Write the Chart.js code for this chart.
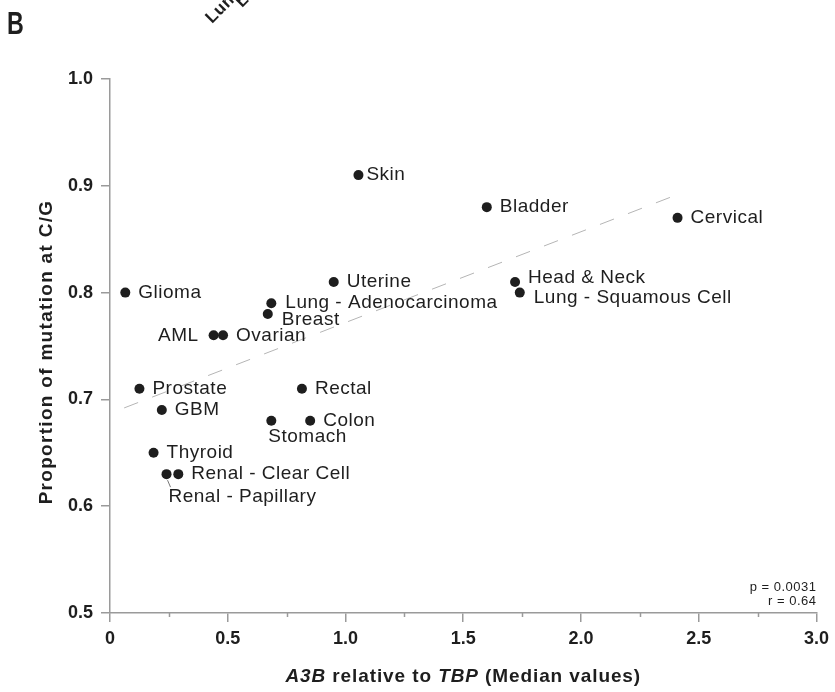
<!DOCTYPE html>
<html>
<head>
<meta charset="utf-8">
<script src="https://cdn.jsdelivr.net/npm/chart.js@4.4.0/dist/chart.umd.min.js"></script>
<style>
  html, body { margin: 0; padding: 0; background: #fff; }
  #wrap { width: 835px; height: 692px; position: relative; }
</style>
</head>
<body>
<div id="wrap"><canvas id="chart"></canvas></div>
<script>
// tumour types with APOBEC3B expression (median, relative to TBP)
// and the fraction of mutations falling at C/G
const tumourTypes = [
  'Skin', 'Bladder', 'Cervical', 'Uterine', 'Head & Neck', 'Lung - Squamous Cell',
  'Glioma', 'Lung - Adenocarcinoma', 'Breast', 'AML', 'Ovarian', 'Prostate',
  'GBM', 'Rectal', 'Stomach', 'Colon', 'Thyroid', 'Renal - Papillary', 'Renal - Clear Cell'
];
const a3bMedian = [
  1.055, 1.60, 2.41, 0.95, 1.72, 1.74,
  0.065, 0.685, 0.67, 0.44, 0.48, 0.125,
  0.22, 0.815, 0.685, 0.85, 0.185, 0.24, 0.29
];
const fractionCG = [
  0.91, 0.88, 0.87, 0.81, 0.81, 0.80,
  0.80, 0.79, 0.78, 0.76, 0.76, 0.71,
  0.69, 0.71, 0.68, 0.68, 0.65, 0.63, 0.63
];

// fitted trend line end points
const trendX = [0.06, 2.40];
const trendY = [0.692, 0.891];

const xTicks = [0, 0.5, 1.0, 1.5, 2.0, 2.5, 3.0];
const xMinorTicks = [0.25, 0.75, 1.25, 1.75, 2.25, 2.75];
const yTicks = [0.5, 0.6, 0.7, 0.8, 0.9, 1.0];
const statsText = ['p = 0.0031', 'r = 0.64'];

// label offsets from each point: [dx, dy, textAlign]
const labelOffsets = {
  'Skin': [8, 0, 'left'],
  'AML': [-15, 0, 'right'],
  'Head & Neck': [13, -4, 'left'],
  'Lung - Squamous Cell': [14, 5, 'left'],
  'Lung - Adenocarcinoma': [14, -1, 'left'],
  'Breast': [14, 6, 'left'],
  'Stomach': [-3, 16, 'left'],
  'Renal - Papillary': [2, 23, 'left']
};

const FONT = '"Liberation Sans", Arial, Helvetica, sans-serif';
const AXIS_GREY = '#9a9a9a';
const INK = '#1e1e1e';

Chart.defaults.font.family = FONT;

const annotations = {
  id: 'annotations',
  afterDatasetsDraw(chart) {
    const ctx = chart.ctx;
    const meta = chart.getDatasetMeta(0);
    ctx.save();
    ctx.fillStyle = INK;
    ctx.font = '19px ' + FONT;
    ctx.letterSpacing = '0.5px';
    ctx.textBaseline = 'middle';
    meta.data.forEach((pt, i) => {
      const name = tumourTypes[i];
      const off = labelOffsets[name] || [13, 0, 'left'];
      ctx.textAlign = off[2];
      ctx.fillText(name, pt.x + off[0], pt.y + off[1]);
      if (name === 'Renal - Papillary') {
        // small leader from the point to its label
        ctx.strokeStyle = '#777';
        ctx.lineWidth = 1;
        ctx.beginPath();
        ctx.moveTo(pt.x + 1, pt.y + 6);
        ctx.lineTo(pt.x + 4, pt.y + 13);
        ctx.stroke();
      }
    });
    ctx.restore();
  },
  afterDraw(chart) {
    const ctx = chart.ctx;
    const xs = chart.scales.x;
    const area = chart.chartArea;

    ctx.save();
    // minor ticks on the x axis
    ctx.strokeStyle = AXIS_GREY;
    ctx.lineWidth = 1.5;
    xMinorTicks.forEach(v => {
      const px = Math.round(xs.getPixelForValue(v)) + 0.5;
      ctx.beginPath();
      ctx.moveTo(px, area.bottom);
      ctx.lineTo(px, area.bottom + 4);
      ctx.stroke();
    });

    ctx.fillStyle = INK;

    // y axis title
    ctx.save();
    ctx.translate(47, 352);
    ctx.rotate(-Math.PI / 2);
    ctx.font = 'bold 19px ' + FONT;
    ctx.letterSpacing = '1.3px';
    ctx.textAlign = 'center';
    ctx.textBaseline = 'middle';
    ctx.fillText('Proportion of mutation at C/G', 0, 0);
    ctx.restore();

    // x axis title, gene names in italics
    const parts = [
      ['A3B', 'italic bold'],
      [' relative to ', 'bold'],
      ['TBP', 'italic bold'],
      [' (Median values)', 'bold']
    ];
    ctx.letterSpacing = '0.9px';
    ctx.textBaseline = 'middle';
    ctx.textAlign = 'left';
    let total = 0;
    parts.forEach(p => {
      ctx.font = p[1] + ' 19px ' + FONT;
      total += ctx.measureText(p[0]).width;
    });
    let x = (area.left + area.right) / 2 - total / 2;
    parts.forEach(p => {
      ctx.font = p[1] + ' 19px ' + FONT;
      ctx.fillText(p[0], x, 677);
      x += ctx.measureText(p[0]).width;
    });

    // correlation stats
    ctx.font = '13px ' + FONT;
    ctx.letterSpacing = '0.5px';
    ctx.textAlign = 'right';
    ctx.fillText(statsText[0], area.right, 587);
    ctx.fillText(statsText[1], area.right, 601);

    // panel letter
    ctx.save();
    ctx.translate(7, 34);
    ctx.scale(0.75, 1);
    ctx.font = 'bold 31px ' + FONT;
    ctx.letterSpacing = '0px';
    ctx.textAlign = 'left';
    ctx.textBaseline = 'alphabetic';
    ctx.fillText('B', 0, 0);
    ctx.restore();

    // rotated headers from the panel above, cut by the top edge
    ctx.font = 'bold 17px ' + FONT;
    ctx.letterSpacing = '0.5px';
    ctx.textAlign = 'left';
    ctx.textBaseline = 'alphabetic';
    [['Lung', 212, 24], ['Lung', 242, 8]].forEach(h => {
      ctx.save();
      ctx.translate(h[1], h[2]);
      ctx.rotate(-Math.PI / 4);
      ctx.fillText(h[0], 0, 0);
      ctx.restore();
    });
    ctx.restore();
  }
};

const scatterPoints = a3bMedian.map((v, i) => ({ x: v, y: fractionCG[i] }));
const trendPoints = trendX.map((v, i) => ({ x: v, y: trendY[i] }));

new Chart(document.getElementById('chart'), {
  type: 'scatter',
  data: {
    datasets: [
      {
        label: 'Tumour types',
        data: scatterPoints,
        pointRadius: 5,
        pointHoverRadius: 5,
        pointBackgroundColor: INK,
        pointBorderWidth: 0
      },
      {
        label: 'Trend',
        type: 'line',
        data: trendPoints,
        borderColor: '#b5b5b5',
        borderWidth: 1,
        borderDash: [15, 15],
        pointRadius: 0,
        fill: false
      }
    ]
  },
  options: {
    responsive: true,
    maintainAspectRatio: false,
    animation: false,
    layout: { padding: { top: 79, right: 15, left: 0, bottom: 0 } },
    plugins: {
      legend: { display: false },
      tooltip: { enabled: false }
    },
    scales: {
      x: {
        type: 'linear',
        min: 0,
        max: 3,
        afterBuildTicks: s => { s.ticks = xTicks.map(v => ({ value: v })); },
        afterFit: s => { s.height = 79; },
        border: { color: AXIS_GREY, width: 1.5 },
        grid: { drawOnChartArea: false, drawTicks: true, tickLength: 9, color: AXIS_GREY, lineWidth: 1.5 },
        ticks: {
          color: INK,
          padding: 6,
          maxRotation: 0,
          font: { size: 18, weight: 'bold' },
          callback: v => (v === 0 ? '0' : v.toFixed(1))
        }
      },
      y: {
        type: 'linear',
        min: 0.5,
        max: 1.0,
        afterBuildTicks: s => { s.ticks = yTicks.map(v => ({ value: v })); },
        afterFit: s => { s.width = 110; },
        border: { color: AXIS_GREY, width: 1.5 },
        grid: { drawOnChartArea: false, drawTicks: true, tickLength: 9, color: AXIS_GREY, lineWidth: 1.5 },
        ticks: {
          color: INK,
          padding: 8,
          font: { size: 18, weight: 'bold' },
          callback: v => v.toFixed(1)
        }
      }
    }
  },
  plugins: [annotations]
});
</script>
</body>
</html>
